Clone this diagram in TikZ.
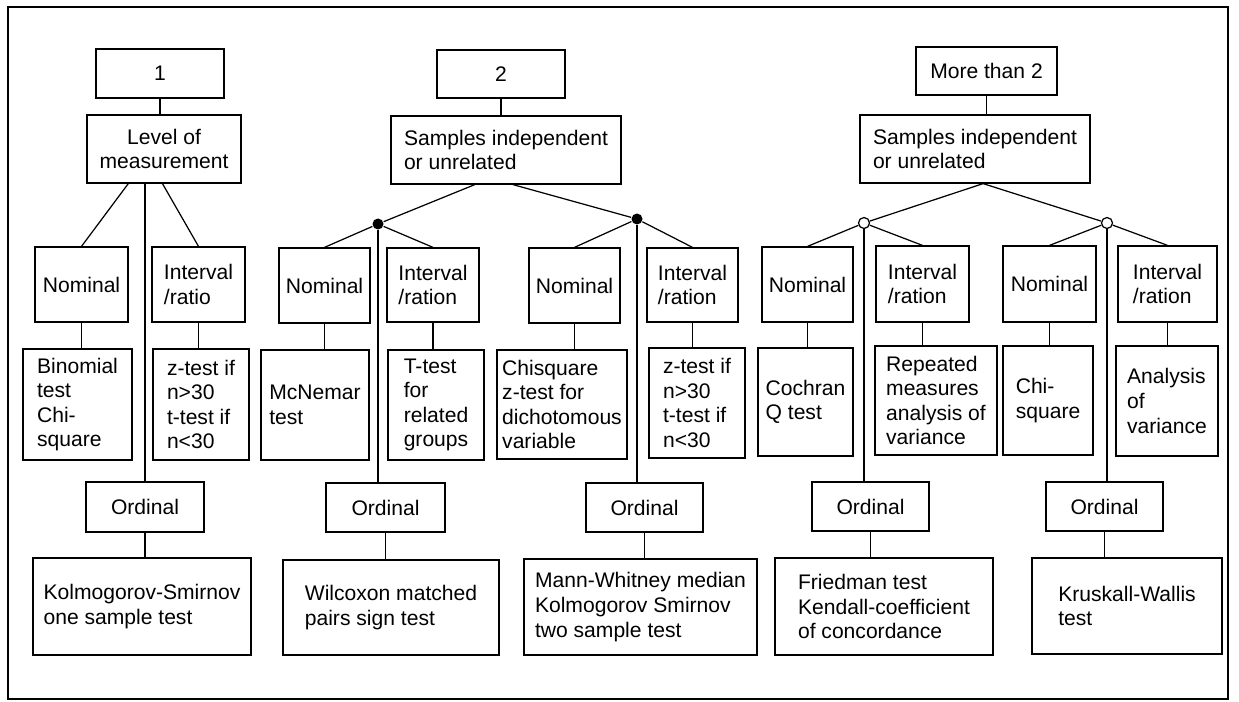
\documentclass[tikz,border=0pt]{standalone}
\usepackage{fontspec}
\setmainfont{Liberation Sans}
\usetikzlibrary{calc}

\begin{document}
\begin{tikzpicture}[font=\fontsize{12}{14}\selectfont, line width=0.7pt,
  box/.style={draw, align=left, inner sep=2pt},
  fdot/.style={circle, fill, inner sep=0pt, minimum size=2.2mm},
  odot/.style={circle, draw, fill=white, inner sep=0pt, minimum size=2.2mm}]
\useasboundingbox (0,0) rectangle (24.78,-14.04);
\draw[line width=0.6pt] (0.16,-0.14) rectangle (24.56,-13.98);

% one sample
\node[box,minimum width=25.6mm,minimum height=9.8mm] (one) at (3.20,-1.47) {1};
\node[box,align=center,minimum width=30.8mm,minimum height=13.6mm] (lev) at (3.28,-2.98) {Level of\\measurement};
\node[box,minimum width=18.6mm,minimum height=15mm] (nom1) at (1.63,-5.69) {Nominal};
\node[box,minimum width=18.6mm,minimum height=15mm] (int1) at (3.97,-5.69) {Interval\\/ratio};
\node[box,minimum width=21.8mm,minimum height=22.2mm] (bin) at (1.55,-8.09) {Binomial\\test\\Chi-\\square};
\node[box,minimum width=19.2mm,minimum height=22.2mm] (zt1) at (4.02,-8.09) {z-test if\\n>30\\t-test if\\n<30};
\node[box,minimum width=23.6mm,minimum height=10mm] (ord1) at (2.90,-10.14) {Ordinal};
\node[box,minimum width=43.6mm,minimum height=19.4mm] (ks1) at (2.84,-12.13) {Kolmogorov-Smirnov\\one sample test};

\draw (one.south) -- (one.south |- lev.north);
\draw ($(lev.south west)!0.27!(lev.south east)$) -- (nom1.north);
\draw ($(lev.south west)!0.49!(lev.south east)$) -- (int1.north);
\draw (ord1.north |- lev.south) -- (ord1.north);
\draw (nom1.south) -- (nom1.south |- bin.north);
\draw (int1.south) -- (int1.south |- zt1.north);
\draw (ord1.south) -- (ord1.south |- ks1.north);

% two samples
\node[box,minimum width=25.6mm,minimum height=9.6mm] (two) at (10.02,-1.48) {2};
\node[box,minimum width=46mm,minimum height=13.6mm] (sam2) at (10.12,-3.00) {Samples independent\\or unrelated};
\node[fdot] (da) at (7.56,-4.48) {};
\node[fdot] (db) at (12.74,-4.38) {};
\node[box,minimum width=18.2mm,minimum height=15mm] (nom2) at (6.49,-5.71) {Nominal};
\node[box,minimum width=18.4mm,minimum height=14.8mm] (int2) at (8.66,-5.70) {Interval\\/ration};
\node[box,minimum width=21.6mm,minimum height=22mm] (mcn) at (6.30,-8.10) {McNemar\\test};
\node[box,minimum width=19.2mm,minimum height=22mm] (tt) at (8.72,-8.10) {T-test\\for\\related\\groups};
\node[box,minimum width=23.8mm,minimum height=9.8mm] (ord2) at (7.71,-10.15) {Ordinal};
\node[box,minimum width=43.2mm,minimum height=19mm] (wil) at (7.82,-12.15) {Wilcoxon matched\\pairs sign test};
\node[box,minimum width=18.2mm,minimum height=15mm] (nom3) at (11.49,-5.71) {Nominal};
\node[box,minimum width=18.2mm,minimum height=14.8mm] (int3) at (13.85,-5.70) {Interval\\/ration};
\node[box,minimum width=26mm,minimum height=21.8mm] (chi2) at (11.24,-8.09) {Chisquare\\z-test for\\dichotomous\\variable};
\node[box,minimum width=19.2mm,minimum height=22mm] (zt2) at (13.94,-8.06) {z-test if\\n>30\\t-test if\\n<30};
\node[box,minimum width=23.4mm,minimum height=9.8mm] (ord3) at (12.89,-10.15) {Ordinal};
\node[box,minimum width=46.6mm,minimum height=19.2mm] (mw) at (12.81,-12.14) {Mann-Whitney median\\Kolmogorov Smirnov\\two sample test};

\draw (two.south) -- (two.south |- sam2.north);
\draw ($(sam2.south west)!0.365!(sam2.south east)$) -- (da);
\draw ($(sam2.south west)!0.53!(sam2.south east)$) -- (db);
\draw (da) -- (nom2.north);
\draw (da) -- (int2.north);
\draw (da) -- (da |- ord2.north);
\draw (db) -- (nom3.north);
\draw (db) -- (int3.north);
\draw (db) -- (db |- ord3.north);
\draw (nom2.south) -- (nom2.south |- mcn.north);
\draw (int2.south) -- (int2.south |- tt.north);
\draw (ord2.south) -- (ord2.south |- wil.north);
\draw (nom3.south) -- (nom3.south |- chi2.north);
\draw (int3.south) -- (int3.south |- zt2.north);
\draw (ord3.south) -- (ord3.south |- mw.north);

% more than two samples
\node[box,minimum width=28.2mm,minimum height=9.6mm] (more) at (19.73,-1.42) {More than 2};
\node[box,minimum width=46mm,minimum height=13.6mm] (sam3) at (19.50,-2.98) {Samples independent\\or unrelated};
\node[odot] (dc) at (17.28,-4.46) {};
\node[odot] (dd) at (22.14,-4.46) {};
\node[box,minimum width=18.2mm,minimum height=15mm] (nom4) at (16.15,-5.69) {Nominal};
\node[box,minimum width=18.6mm,minimum height=15.2mm] (int4) at (18.45,-5.68) {Interval\\/ration};
\node[box,minimum width=19mm,minimum height=21.6mm] (coc) at (16.11,-8.04) {Cochran\\Q test};
\node[box,minimum width=24.4mm,minimum height=21.8mm] (rep) at (18.72,-8.01) {Repeated\\measures\\analysis of\\variance};
\node[box,minimum width=18.6mm,minimum height=15.2mm] (nom5) at (20.99,-5.68) {Nominal};
\node[box,minimum width=19.8mm,minimum height=15.2mm] (int5) at (23.35,-5.68) {Interval\\/ration};
\node[box,minimum width=18mm,minimum height=21.8mm] (chi3) at (20.96,-8.01) {Chi-\\square};
\node[box,minimum width=20.4mm,minimum height=22mm] (ana) at (23.34,-8.02) {Analysis\\of\\variance};
\node[box,minimum width=23.4mm,minimum height=9.8mm] (ord4) at (17.41,-10.13) {Ordinal};
\node[box,minimum width=43.6mm,minimum height=19.4mm] (fri) at (17.68,-12.13) {Friedman test\\Kendall-coefficient\\of concordance};
\node[box,minimum width=23.4mm,minimum height=9.8mm] (ord5) at (22.09,-10.13) {Ordinal};
\node[box,minimum width=38mm,minimum height=19.2mm] (kru) at (22.54,-12.12) {Kruskall-Wallis\\test};

\draw (more.south) -- (more.south |- sam3.north);
\coordinate (s3) at ($(sam3.south west)!0.535!(sam3.south east)$);
\draw (dc) -- (s3) -- (dd);
\draw (dc) -- (nom4.north);
\draw (dc) -- (int4.north);
\draw (dc) -- (dc |- ord4.north);
\draw (dd) -- (nom5.north);
\draw (dd) -- (int5.north);
\draw (dd) -- (dd |- ord5.north);
\draw (nom4.south) -- (nom4.south |- coc.north);
\draw (int4.south) -- (int4.south |- rep.north);
\draw (ord4.south) -- (ord4.south |- fri.north);
\draw (nom5.south) -- (nom5.south |- chi3.north);
\draw (int5.south) -- (int5.south |- ana.north);
\draw (ord5.south) -- (ord5.south |- kru.north);
\end{tikzpicture}
\end{document}
